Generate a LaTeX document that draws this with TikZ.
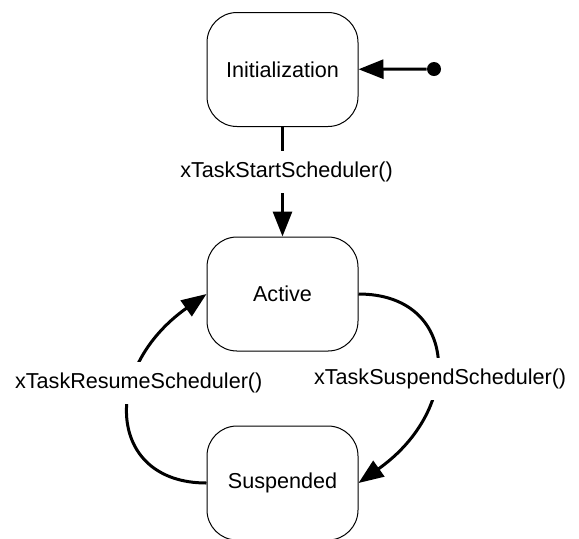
\documentclass[tikz,border=0pt]{standalone}
\usepackage{fontspec}
\setmainfont{Liberation Sans}
\usetikzlibrary{arrows.meta}

\begin{document}
\begin{tikzpicture}
[x=0.5pt, y=-0.5pt,
 StateNode/.style={rectangle, rounded corners=15pt,
    draw=black, line width=0.5pt, fill=white,
    minimum width=75.5pt, minimum height=57pt},
 Trans/.style={line width=1.5pt,
    -{Triangle[length=12.5pt,width=9.5pt]}},
 TransLabel/.style={fill=white, inner xsep=1pt, inner ysep=5.5pt},
 font=\fontsize{10.8}{13}\selectfont]
\useasboundingbox (0,0) rectangle (579,538);
\node[StateNode] (init) at (282.5,69.5) {Initialization};
\node[StateNode] (act) at (282.5,294) {Active};
\node[StateNode] (susp) at (282.5,483) {Suspended};
\node[circle, fill=black, inner sep=0pt, minimum size=7pt] (start) at (434,69) {};
\draw[Trans] (start) -- (init);
\draw[Trans] (init) -- (act)
    node[TransLabel, pos=0.41, xshift=2pt] {xTaskStartScheduler()};
\draw[Trans] (susp.west) .. controls +(-100,0) and +(-106,75) .. (act.west)
    node[TransLabel, pos=0.64, xshift=2pt] {xTaskResumeScheduler()};
\draw[Trans] (act.east) .. controls +(100,0) and +(106,-75) .. (susp.east)
    node[TransLabel, pos=0.58, xshift=3pt] {xTaskSuspendScheduler()};
\end{tikzpicture}
\end{document}
